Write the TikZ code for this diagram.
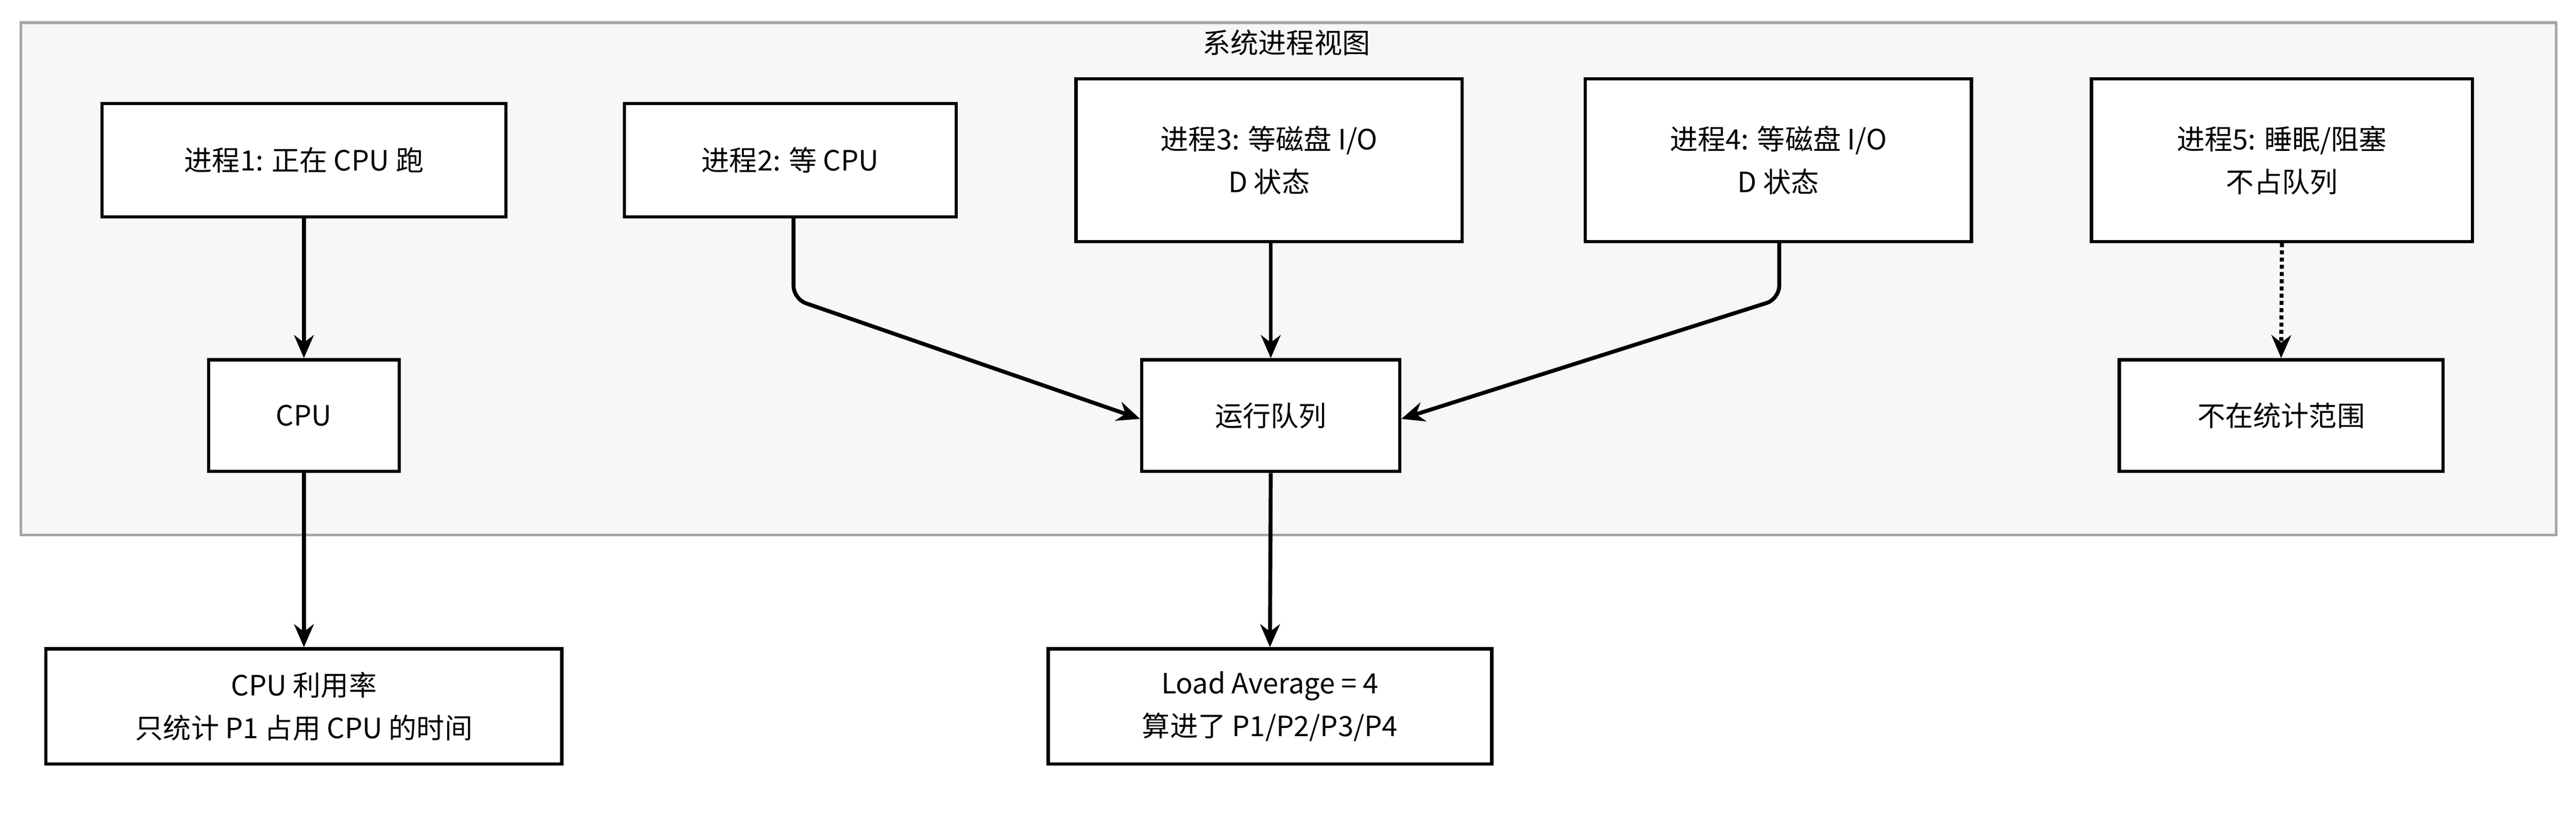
\documentclass[tikz,border=0pt]{standalone}
\usepackage{fontspec}
\setmainfont{Noto Sans CJK SC}
\usetikzlibrary{arrows.meta}
\begin{document}
\begin{tikzpicture}[x=1pt,y=-1pt,
  box/.style={draw=black,line width=2pt,fill=white,align=center,font=\fontsize{17}{26}\selectfont},
  arr/.style={line width=2.4pt,-{Stealth[length=14pt,width=12pt]},rounded corners=8pt}]
\useasboundingbox (0,0) rectangle (1568,507);
\fill[white] (0,0) rectangle (1568,507);
\node[draw=black!35,fill=black!3,line width=1.6pt,minimum width=1543pt,minimum height=312pt,anchor=north west] (frame) at (12,13) {};
\node[font=\fontsize{17}{20}\selectfont] (title) at (783,26) {系统进程视图};
\node[box,minimum width=246pt,minimum height=69pt] (p1) at (185,97.5) {进程1: 正在 CPU 跑};
\node[box,minimum width=202pt,minimum height=69pt] (p2) at (481,97.5) {进程2: 等 CPU};
\node[box,minimum width=235pt,minimum height=99pt] (p3) at (772.5,97.5) {进程3: 等磁盘 I/O\\D 状态};
\node[box,minimum width=235pt,minimum height=99pt] (p4) at (1082.5,97.5) {进程4: 等磁盘 I/O\\D 状态};
\node[box,minimum width=232pt,minimum height=99pt] (p5) at (1389,97.5) {进程5: 睡眠/阻塞\\不占队列};
\node[box,minimum width=116pt,minimum height=68pt] (cpu) at (185,253) {CPU};
\node[box,minimum width=157pt,minimum height=68pt] (q) at (773.5,253) {运行队列};
\node[box,minimum width=197pt,minimum height=68pt] (no) at (1388.5,253) {不在统计范围};
\node[box,minimum width=314pt,minimum height=70pt] (util) at (185,430) {CPU 利用率\\只统计 P1 占用 CPU 的时间};
\node[box,minimum width=270pt,minimum height=70pt] (la) at (773,430) {Load Average = 4\\算进了 P1/P2/P3/P4};
\coordinate (c2) at (483,182);
\coordinate (c4) at (1083,182);
\draw[arr] (p1.south) -- (cpu.north);
\draw[arr] (p2.south -| c2) -- (c2) -- ([yshift=-2pt]q.west);
\draw[arr] (p3.south -| q.north) -- (q.north);
\draw[arr] (p4.south -| c4) -- (c4) -- ([yshift=-2pt]q.east);
\draw[arr,dotted] (p5.south) -- (no.north);
\draw[arr] (cpu.south) -- (util.north);
\draw[arr] (q.south) -- (la.north);
\end{tikzpicture}
\end{document}
